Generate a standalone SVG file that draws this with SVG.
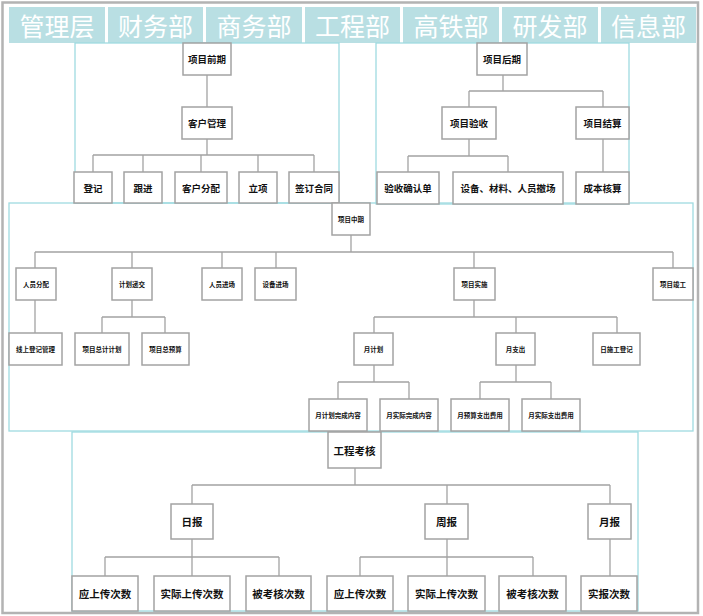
<svg xmlns="http://www.w3.org/2000/svg" width="703" height="616" viewBox="0 0 703 616">
<style>
.frame{fill:#ffffff;stroke:#b3b3b3;stroke-width:2.5}
.hc{fill:#b9dfe3}
.ht{fill:#ffffff;font-family:"Noto Sans CJK SC","Liberation Serif",serif;font-size:25px;text-anchor:middle;dominant-baseline:central}
.sec{fill:none;stroke:#9fdbe1;stroke-width:1.3}
.nd{fill:#ffffff;stroke:#a3a3a3;stroke-width:1.5}
.t{fill:#111111;font-family:"Noto Sans CJK SC","Noto Sans",sans-serif;font-weight:bold;text-anchor:middle;dominant-baseline:central}
.s9{font-size:9.5px}
.s6{font-size:6.5px}
.s10{font-size:10.5px}
.cn{fill:none;stroke:#a3a3a3;stroke-width:1.3}
</style>
<rect class="frame" x="2.5" y="2.5" width="695.5" height="610.5"/>
<g id="header">
<g id="h1"><rect class="hc" x="9" y="7" width="96" height="36"/><text class="ht" x="57" y="25">管理层</text></g>
<g id="h2"><rect class="hc" x="108" y="7" width="95" height="36"/><text class="ht" x="155.5" y="25">财务部</text></g>
<g id="h3"><rect class="hc" x="206" y="7" width="96" height="36"/><text class="ht" x="254" y="25">商务部</text></g>
<g id="h4"><rect class="hc" x="305" y="7" width="95" height="36"/><text class="ht" x="352.5" y="25">工程部</text></g>
<g id="h5"><rect class="hc" x="403" y="7" width="96" height="36"/><text class="ht" x="451" y="25">高铁部</text></g>
<g id="h6"><rect class="hc" x="502" y="7" width="96" height="36"/><text class="ht" x="550" y="25">研发部</text></g>
<g id="h7"><rect class="hc" x="601" y="7" width="95" height="36"/><text class="ht" x="648.5" y="25">信息部</text></g>
</g>
<g id="sections">
<rect class="sec" x="75" y="43" width="264" height="160"/>
<rect class="sec" x="376" y="43" width="253" height="161"/>
<rect class="sec" x="9" y="203" width="684" height="228"/>
<rect class="sec" x="72" y="432" width="566" height="179"/>
</g>
<g id="connectors">
<path class="cn" d="M207 75V107M207 139V155M93 155H314M93 155V172M143 155V172M201 155V172M258 155V172M314 155V172"/>
<path class="cn" d="M503 75V91M469 91H603M469 91V107M603 91V107M469 139V156M408 156H508M408 156V172M508 156V172M603 139V172"/>
<path class="cn" d="M351 235V252M35 252H673M35 252V268M132 252V268M222 252V268M276 252V268M474 252V268M673 252V268M35 300V333M132 300V317M102 317H165M102 317V333M165 317V333M474 300V317M374 317H617M374 317V333M516 317V333M617 317V333M374 365V382M338 382H409M338 382V399M409 382V399M516 365V382M480 382H551M480 382V399M551 382V399"/>
<path class="cn" d="M355 468V485M192 485H610M192 485V504M447 485V504M610 485V504M192 539V557M105 557H279M105 557V576M192 557V576M279 557V576M447 539V557M360 557H533M360 557V576M447 557V576M533 557V576M610 539V576"/>
</g>
<g id="n_qq"><rect class="nd" x="183" y="43" width="48" height="32"/><text class="t s9" x="207" y="59">项目前期</text></g>
<g id="n_khgl"><rect class="nd" x="182" y="107" width="50" height="32"/><text class="t s9" x="207" y="123">客户管理</text></g>
<g id="n_dj"><rect class="nd" x="74" y="172" width="38" height="31"/><text class="t s9" x="93" y="187.5">登记</text></g>
<g id="n_gj"><rect class="nd" x="124" y="172" width="38" height="31"/><text class="t s9" x="143" y="187.5">跟进</text></g>
<g id="n_khfp"><rect class="nd" x="175" y="172" width="52" height="31"/><text class="t s9" x="201" y="187.5">客户分配</text></g>
<g id="n_lx"><rect class="nd" x="239" y="172" width="38" height="31"/><text class="t s9" x="258" y="187.5">立项</text></g>
<g id="n_qdht"><rect class="nd" x="289" y="172" width="50" height="31"/><text class="t s9" x="314" y="187.5">签订合同</text></g>
<g id="n_hq"><rect class="nd" x="477" y="43" width="50" height="32"/><text class="t s9" x="502" y="59">项目后期</text></g>
<g id="n_ys"><rect class="nd" x="442" y="107" width="54" height="32"/><text class="t s9" x="469" y="123">项目验收</text></g>
<g id="n_js"><rect class="nd" x="576" y="107" width="53" height="32"/><text class="t s9" x="602.5" y="123">项目结算</text></g>
<g id="n_yqr"><rect class="nd" x="377" y="172" width="62" height="32"/><text class="t s9" x="408" y="188">验收确认单</text></g>
<g id="n_cc"><rect class="nd" x="453" y="172" width="110" height="32"/><text class="t s9" x="508" y="188">设备、材料、人员撤场</text></g>
<g id="n_cbhs"><rect class="nd" x="576" y="172" width="53" height="32"/><text class="t s9" x="602.5" y="188">成本核算</text></g>
<g id="n_zq"><rect class="nd" x="332" y="203" width="38" height="32"/><text class="t s6" x="351" y="219">项目中期</text></g>
<g id="n_ryfp"><rect class="nd" x="16" y="268" width="40" height="32"/><text class="t s6" x="36" y="284">人员分配</text></g>
<g id="n_jhdj"><rect class="nd" x="112" y="268" width="40" height="32"/><text class="t s6" x="132" y="284">计划递交</text></g>
<g id="n_ryjc"><rect class="nd" x="202" y="268" width="40" height="32"/><text class="t s6" x="222" y="284">人员进场</text></g>
<g id="n_sbjc"><rect class="nd" x="255" y="268" width="41" height="32"/><text class="t s6" x="275.5" y="284">设备进场</text></g>
<g id="n_xmss"><rect class="nd" x="454" y="268" width="41" height="32"/><text class="t s6" x="474.5" y="284">项目实施</text></g>
<g id="n_xmjg"><rect class="nd" x="653" y="268" width="40" height="32"/><text class="t s6" x="673" y="284">项目竣工</text></g>
<g id="n_xsdj"><rect class="nd" x="9" y="333" width="53" height="32"/><text class="t s6" x="35.5" y="349">线上登记管理</text></g>
<g id="n_zjh"><rect class="nd" x="75" y="333" width="54" height="32"/><text class="t s6" x="102" y="349">项目总计计划</text></g>
<g id="n_zys"><rect class="nd" x="142" y="333" width="47" height="32"/><text class="t s6" x="165.5" y="349">项目总预算</text></g>
<g id="n_yjh"><rect class="nd" x="354" y="333" width="39" height="32"/><text class="t s6" x="373.5" y="349">月计划</text></g>
<g id="n_yzc"><rect class="nd" x="496" y="333" width="39" height="32"/><text class="t s6" x="515.5" y="349">月支出</text></g>
<g id="n_rsg"><rect class="nd" x="593" y="333" width="47" height="32"/><text class="t s6" x="616.5" y="349">日施工登记</text></g>
<g id="n_yjhwc"><rect class="nd" x="309" y="399" width="58" height="32"/><text class="t s6" x="338" y="415">月计划完成内容</text></g>
<g id="n_ysjwc"><rect class="nd" x="380" y="399" width="58" height="32"/><text class="t s6" x="409" y="415">月实际完成内容</text></g>
<g id="n_yyszc"><rect class="nd" x="451" y="399" width="58" height="32"/><text class="t s6" x="480" y="415">月预算支出费用</text></g>
<g id="n_ysjzc"><rect class="nd" x="522" y="399" width="58" height="32"/><text class="t s6" x="551" y="415">月实际支出费用</text></g>
<g id="n_gckh"><rect class="nd" x="328" y="432" width="53" height="36"/><text class="t s10" x="354.5" y="450">工程考核</text></g>
<g id="n_rb"><rect class="nd" x="171" y="504" width="42" height="35"/><text class="t s10" x="192" y="521.5">日报</text></g>
<g id="n_zb"><rect class="nd" x="425" y="504" width="43" height="35"/><text class="t s10" x="446.5" y="521.5">周报</text></g>
<g id="n_yb"><rect class="nd" x="588" y="504" width="43" height="35"/><text class="t s10" x="609.5" y="521.5">月报</text></g>
<g id="n_r1"><rect class="nd" x="72" y="576" width="66" height="35"/><text class="t s10" x="105" y="593.5">应上传次数</text></g>
<g id="n_r2"><rect class="nd" x="154" y="576" width="76" height="35"/><text class="t s10" x="192" y="593.5">实际上传次数</text></g>
<g id="n_r3"><rect class="nd" x="246" y="576" width="65" height="35"/><text class="t s10" x="278.5" y="593.5">被考核次数</text></g>
<g id="n_z1"><rect class="nd" x="327" y="576" width="66" height="35"/><text class="t s10" x="360" y="593.5">应上传次数</text></g>
<g id="n_z2"><rect class="nd" x="408" y="576" width="77" height="35"/><text class="t s10" x="446.5" y="593.5">实际上传次数</text></g>
<g id="n_z3"><rect class="nd" x="499" y="576" width="67" height="35"/><text class="t s10" x="532.5" y="593.5">被考核次数</text></g>
<g id="n_y1"><rect class="nd" x="581" y="576" width="56" height="35"/><text class="t s10" x="609" y="593.5">实报次数</text></g>
</svg>
